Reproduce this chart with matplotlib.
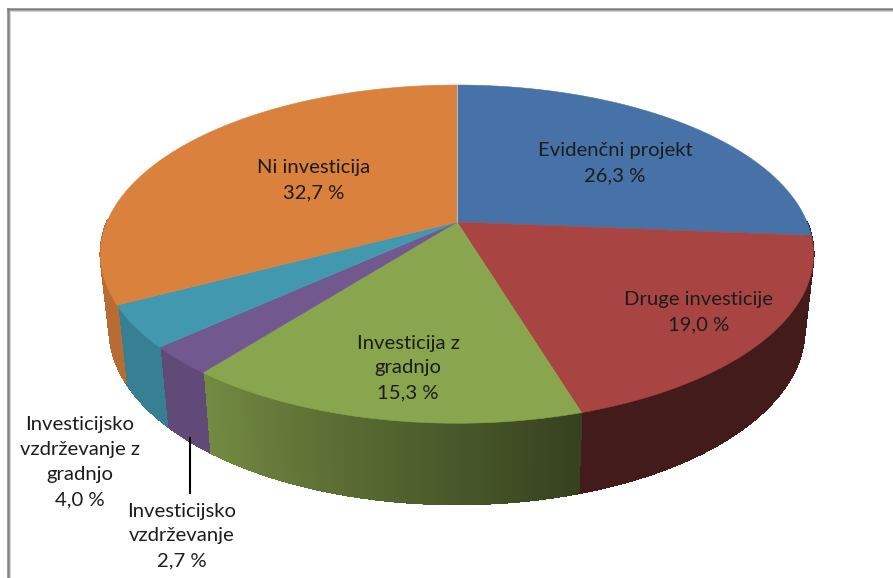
import numpy as np
import matplotlib
matplotlib.use("Agg")
import matplotlib.pyplot as plt
from matplotlib.patches import Polygon
from matplotlib.collections import PolyCollection, LineCollection
from matplotlib.colors import to_rgb

labels = ["Evidenčni projekt", "Druge investicije", "Investicija z\ngradnjo",
          "Investicijsko\nvzdrževanje", "Investicijsko\nvzdrževanje z\ngradnjo", "Ni investicija"]
values = [26.3, 19.0, 15.3, 2.7, 4.0, 32.7]
value_text = ["26,3 %", "19,0 %", "15,3 %", "2,7 %", "4,0 %", "32,7 %"]
colors = ["#4672A8", "#A84543", "#89A54E", "#71588F", "#4198AF", "#DA813D"]
label_pos = [(615, 163), (699, 312), (408, 368), (182, 536), (80, 462), (314, 180)]


# pie seen in perspective, apex at (457, 222)
def top_rim(t):
    d = 1 + 0.19 * np.cos(t)
    return 457 + 350 * np.sin(t) / d, 222 - 163 * np.cos(t) / d


def bottom_rim(t):
    d = 1 + 0.19 * np.cos(t)
    return 457 + 0.975 * 350 * np.sin(t) / d, 296 - 1.035 * 163 * np.cos(t) / d


def shade(t):
    # side wall gets darker towards the lower right
    return np.interp(np.degrees(t), [0, 163, 218, 360], [0.39, 0.39, 0.84, 0.84])


fig = plt.figure(figsize=(8.93, 5.78), dpi=100)
ax = fig.add_axes([0, 0, 1, 1])
ax.set_xlim(0, 893)
ax.set_ylim(578, 0)
ax.axis("off")

# frame, only top and left are in the crop
ax.plot([8, 893], [9, 9], color="#808080", lw=1.8, zorder=1)
ax.plot([8, 8], [9, 578], color="#808080", lw=1.8, zorder=1)
ax.plot([10, 893], [10.8, 10.8], color="#d4d4d4", lw=0.8, zorder=1)
ax.plot([9.8, 9.8], [11, 578], color="#d4d4d4", lw=0.8, zorder=1)

edges = np.radians(np.concatenate([[0], np.cumsum(values)]) * 3.6)
edges[-1] = 2 * np.pi

# walls first, hard edged so the bands do not show seams, rim line smooths the outline
for i in range(len(values)):
    ts = np.linspace(edges[i], edges[i + 1], 80)
    quads = []
    cols = []
    rim = []
    base = np.array(to_rgb(colors[i]))
    for a, b in zip(ts[:-1], ts[1:]):
        if (a + b) / 2 < np.pi / 2 or (a + b) / 2 > 3 * np.pi / 2:
            continue
        quads.append([top_rim(a), top_rim(b), bottom_rim(b), bottom_rim(a)])
        rim.append([bottom_rim(a), bottom_rim(b)])
        cols.append(base * shade((a + b) / 2))
    if quads:
        ax.add_collection(PolyCollection(quads, facecolors=cols, edgecolors=cols, linewidths=0.8,
                                         antialiaseds=False, zorder=2))
        ax.add_collection(LineCollection(rim, colors=cols, linewidths=1.0, zorder=2))

for i in range(len(values)):
    ts = np.linspace(edges[i], edges[i + 1], 120)
    x, y = top_rim(ts)
    pts = [(457, 222)] + list(zip(x, y))
    ax.add_patch(Polygon(pts, closed=True, facecolor=colors[i], edgecolor=colors[i], lw=0.4, zorder=3))

ax.plot([457, 457], [85, 222], color="#c9cfd8", lw=0.6, zorder=4)

for lab, val, (px, py) in zip(labels, value_text, label_pos):
    ax.text(px, py, lab + "\n" + val, ha="center", va="center", multialignment="center",
            family="Lato", fontsize=14.6, color="#1c1c1c", linespacing=1.57, zorder=5)

# leader line of the purple slice
ax.plot([190, 190], [438, 493], color="black", lw=1.5, zorder=5)

fig.savefig("out.png", dpi=100, facecolor="white")
